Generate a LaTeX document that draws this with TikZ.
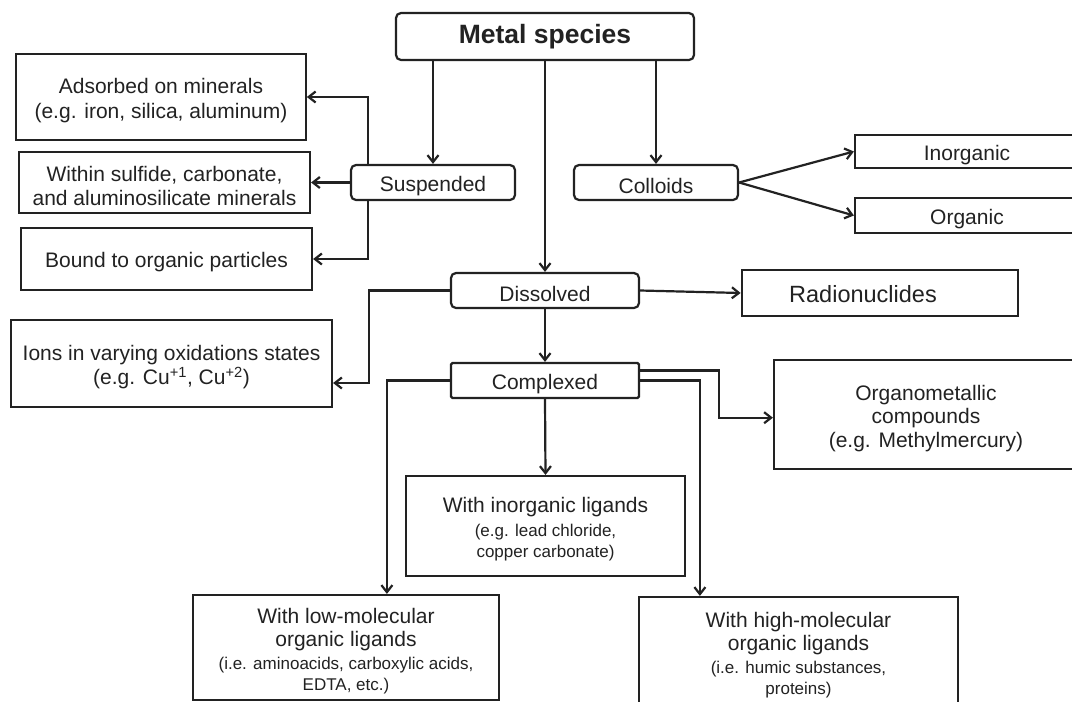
\documentclass[tikz,border=0pt]{standalone}
\usepackage{fontspec}
\setmainfont{Liberation Sans}
\usetikzlibrary{arrows.meta,calc}
\definecolor{ink}{HTML}{222222}
\newcommand{\nsz}{\fontsize{21}{24.5}\selectfont}
\newcommand{\ssz}{\fontsize{17}{21}\selectfont}
\newcommand{\dn}{\rule{0pt}{22pt}}
\begin{document}
\begin{tikzpicture}[x=1pt,y=-1pt,
  box/.style={draw=ink, line width=2.2pt, inner sep=0pt, align=center, text=ink, font=\nsz},
  rbox/.style={box, rounded corners=5pt},
  arr/.style={draw=ink, line width=2.2pt, -{Straight Barb[length=7pt,width=11pt]}},
  ]
\useasboundingbox (0,0) rectangle (1072,702);
\clip (0,0) rectangle (1072,702);
\fill[white] (0,0) rectangle (1072,702);

% nodes
\node[rbox, minimum width=298pt, minimum height=47pt, font=\fontsize{26.5}{30}\selectfont\bfseries] (ms) at (545,36.5) {Metal species};
\node[box, minimum width=289.5pt, minimum height=86pt] (ads) at (161,97) {\dn Adsorbed on minerals\\(e.g. iron, silica, aluminum)};
\node[box, minimum width=291pt, minimum height=61pt] (within) at (164.5,182.5) {\dn Within sulfide, carbonate,\\and aluminosilicate minerals};
\node[box, minimum width=291pt, minimum height=62pt] (bound) at (166.5,259) {\dn Bound to organic particles};
\node[rbox, minimum width=164pt, minimum height=35pt] (susp) at (433,182.5) {\dn Suspended};
\node[rbox, minimum width=164pt, minimum height=35pt] (coll) at (656,182.5) {\dn Colloids};
\node[box, minimum width=224pt, minimum height=33pt] (inorg) at (967,151.5) {\dn Inorganic};
\node[box, minimum width=224pt, minimum height=35pt] (org) at (967,215.5) {\dn Organic};
\node[rbox, minimum width=188pt, minimum height=35pt] (diss) at (545,290.5) {\dn Dissolved};
\node[box, minimum width=276.5pt, minimum height=46pt, font=\fontsize{23.5}{28}\selectfont] (radio) at (880,293) {\rule{0pt}{20pt}Radionuclides\hspace*{34pt}};
\node[box, minimum width=321pt, minimum height=87pt] (ions) at (171.5,363.5) {\dn Ions in varying oxidations states\\(e.g. Cu\textsuperscript{+1}, Cu\textsuperscript{+2})};
\node[box, rounded corners=1.5pt, minimum width=188pt, minimum height=35pt] (cplx) at (545,380.5) {\dn Complexed};
\node[box, minimum width=304pt, minimum height=109pt, font=\fontsize{21}{23.5}\selectfont] (organomet) at (926,414.7) {\dn Organometallic\\compounds\\(e.g. Methylmercury)};
\node[box, minimum width=279pt, minimum height=100pt] (inlig) at (545.5,526) {\dn With inorganic ligands\\\ssz (e.g. lead chloride,\\[-3.5pt]\ssz copper carbonate)};
\node[box, minimum width=306pt, minimum height=105pt, font=\fontsize{21}{23}\selectfont] (lowm) at (346,647.5) {\dn With low-molecular\\organic ligands\\\ssz (i.e. aminoacids, carboxylic acids,\\[-2pt]\ssz EDTA, etc.)};
\node[box, minimum width=319pt, minimum height=109pt, font=\fontsize{21}{23}\selectfont] (highm) at (798.5,651.5) {\dn With high-molecular\\organic ligands\\\ssz (i.e. humic substances,\\[-2pt]\ssz proteins)};

% connectors
\draw[arr] (susp.north |- ms.south) -- (susp.north);
\draw[arr] (ms.south) -- (diss.north);
\draw[arr] (coll.north |- ms.south) -- (coll.north);
\draw[arr] ([xshift=18pt]susp.north west) |- (ads.east);
\draw[arr] (susp.west) -- (within.east);
\draw[arr] ([xshift=18pt]susp.south west) |- (bound.east);
\draw[arr] (coll.east) -- (inorg.west);
\draw[arr] (coll.east) -- (org.west);
\draw[arr] (diss.east) -- (radio.west);
\draw[arr] (diss.west) -- ++(-81,0) |- ([yshift=-19.5pt]ions.east);
\draw[arr] (diss.south) -- (cplx.north);
\draw[arr] (cplx.west) -| ($(lowm.north west)+(195,0)$);
\draw[arr] (cplx.south) -- (inlig.north);
\draw[arr] ([yshift=10pt]cplx.east) -- ++(79,0) |- ([yshift=-3pt]organomet.west);
\draw[arr] (cplx.east) -| ($(highm.north west)+(62,0)$);
\end{tikzpicture}
\end{document}
